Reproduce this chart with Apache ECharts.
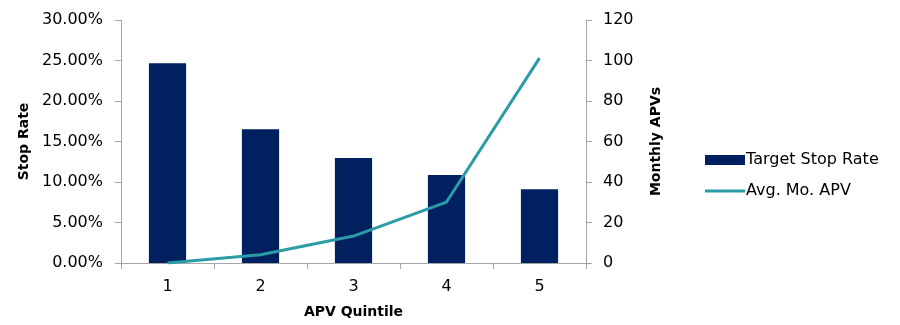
<!DOCTYPE html>
<html>
<head>
    <meta charset="utf-8">
    <title>Stop Rate by APV Quintile</title>
    <script src="https://cdn.jsdelivr.net/npm/echarts@6/dist/echarts.min.js"></script>
    <style>
        html, body { margin: 0; padding: 0; background: #fff; }
        #chart { width: 900px; height: 325px; }
    </style>
</head>
<body>
<div id="chart"></div>
<script>
    let quintiles = ['1', '2', '3', '4', '5'];
    let stopRate = [24.65, 16.5, 12.95, 10.85, 9.1];   // percent
    let avgApv = [0, 4.1, 13.3, 30.1, 101.2];

    let font = '"DejaVu Sans", sans-serif';
    let axisGray = '#a6a6a6';

    let myChart = echarts.init(document.getElementById('chart'));
    let option = {
        animation: false,
        textStyle: { fontFamily: font, color: '#000' },
        grid: { left: 121, right: 314, top: 20, bottom: 62, outerBoundsMode: 'none', containLabel: false },
        legend: {
            orient: 'vertical',
            left: 700,
            top: 147,
            itemGap: 15,
            itemWidth: 40,
            itemHeight: 10,
            textStyle: { fontFamily: font, fontSize: 16, color: '#000', padding: [0, 0, 0, -4] },
            data: [
                { name: 'Target Stop Rate', icon: 'rect' },
                { name: 'Avg. Mo. APV', icon: 'path://M0,0 L40,0 L40,3 L0,3 Z', itemStyle: { color: '#2b9ca6' } }
            ]
        },
        xAxis: {
            type: 'category',
            data: quintiles,
            name: 'APV Quintile',
            nameLocation: 'middle',
            nameGap: 42,
            nameTextStyle: { fontFamily: font, fontSize: 14, fontWeight: 'bold', color: '#000' },
            axisLine: { lineStyle: { color: axisGray, width: 1 } },
            axisTick: { show: true, length: 6, lineStyle: { color: axisGray } },
            axisLabel: { fontFamily: font, fontSize: 16, color: '#000', margin: 16 }
        },
        yAxis: [
            {
                type: 'value',
                min: 0,
                max: 30,
                interval: 5,
                name: 'Stop Rate',
                nameLocation: 'middle',
                nameRotate: 90,
                nameGap: 88,
                nameTextStyle: { fontFamily: font, fontSize: 14, fontWeight: 'bold', color: '#000' },
                axisLine: { show: true, lineStyle: { color: axisGray } },
                axisTick: { show: true, length: 6, lineStyle: { color: axisGray } },
                splitLine: { show: false },
                axisLabel: {
                    fontFamily: font, fontSize: 16, color: '#000', margin: 18,
                    formatter: function(v) { return v.toFixed(2) + '%'; }
                }
            },
            {
                type: 'value',
                min: 0,
                max: 120,
                interval: 20,
                position: 'right',
                name: 'Monthly APVs',
                nameLocation: 'middle',
                nameRotate: 90,
                nameGap: 63,
                nameTextStyle: { fontFamily: font, fontSize: 14, fontWeight: 'bold', color: '#000' },
                axisLine: { show: true, lineStyle: { color: axisGray } },
                axisTick: { show: true, length: 6, lineStyle: { color: axisGray } },
                splitLine: { show: false },
                axisLabel: { fontFamily: font, fontSize: 16, color: '#000', margin: 17 }
            }
        ],
        series: [
            {
                name: 'Target Stop Rate',
                type: 'bar',
                yAxisIndex: 0,
                barWidth: '40%',
                itemStyle: { color: '#002060' },
                data: stopRate
            },
            {
                name: 'Avg. Mo. APV',
                type: 'line',
                yAxisIndex: 1,
                symbol: 'none',
                lineStyle: { color: '#2b9ca6', width: 3 },
                itemStyle: { color: '#2b9ca6' },
                data: avgApv
            }
        ]
    };
    myChart.setOption(option);
</script>
</body>
</html>
